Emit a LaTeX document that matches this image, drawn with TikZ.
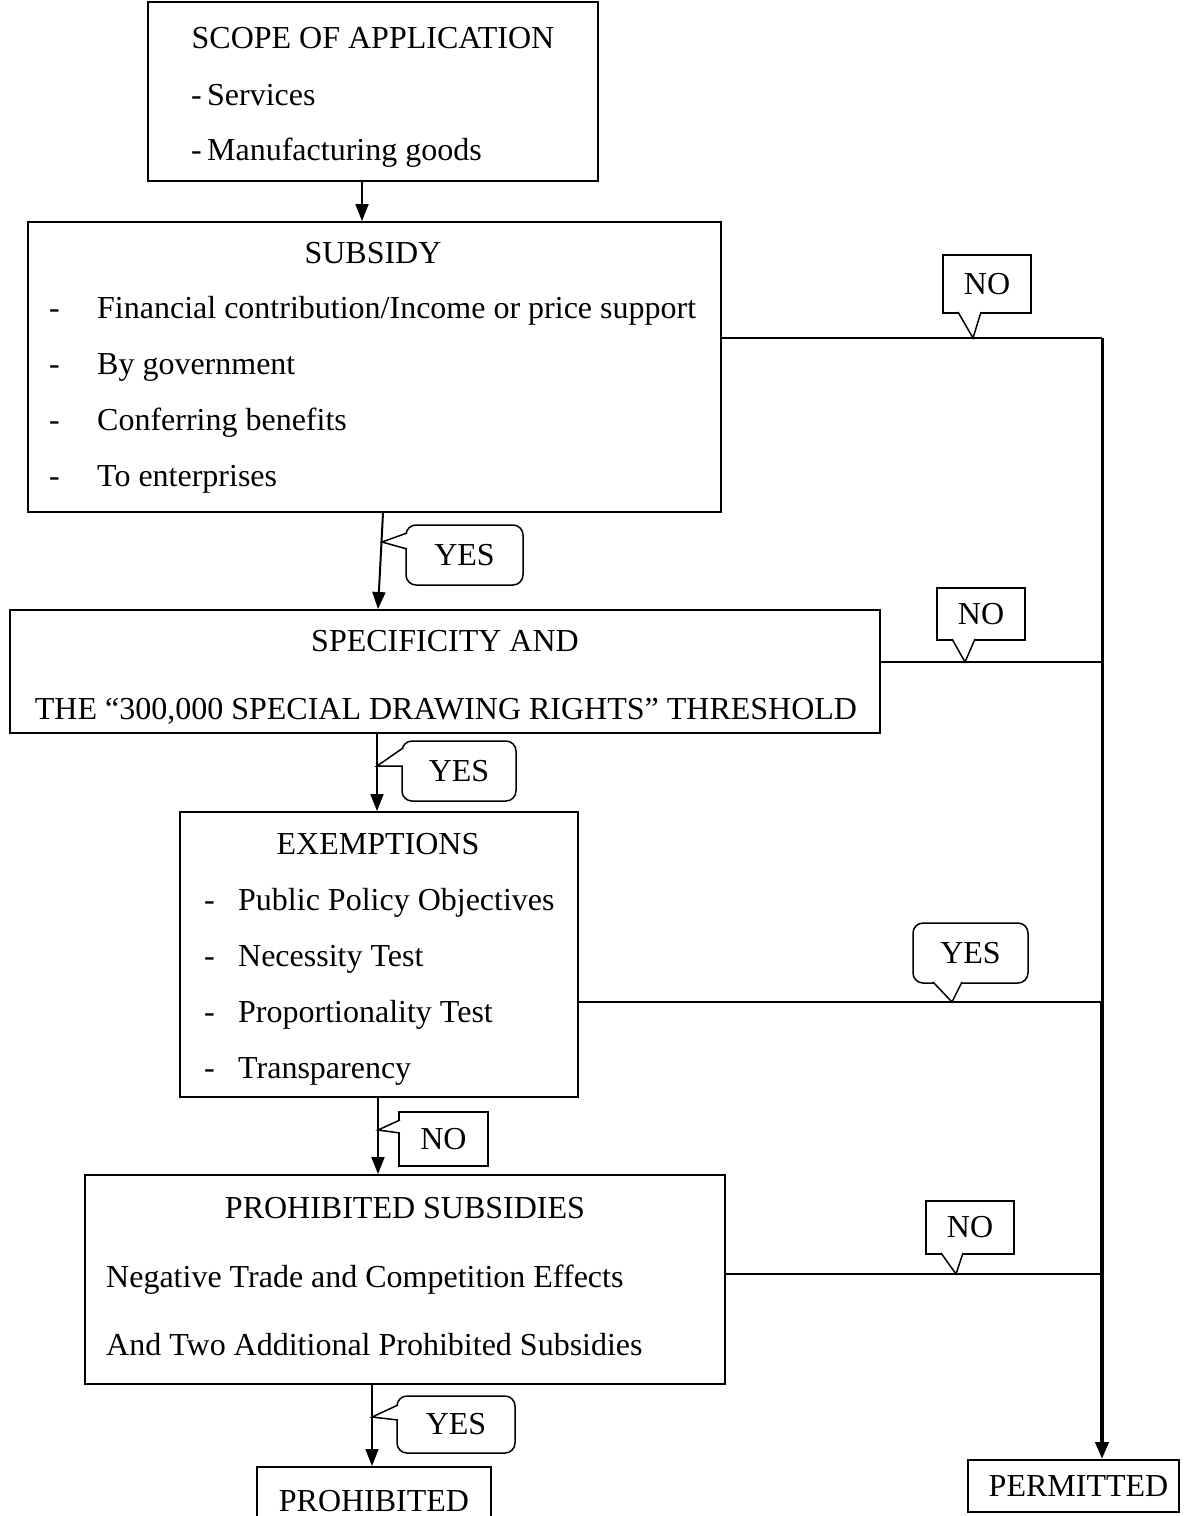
\documentclass[tikz,border=0pt]{standalone}
\usepackage{fontspec}
\setmainfont{Liberation Serif}
\usetikzlibrary{arrows.meta}

% list line: dash, then text after a fixed gap
\newcommand{\itm}[2]{\makebox[#1][l]{-}#2}
% pointer of a speech tag: base point, tip, base point
\newcommand{\pointer}[3]{%
  \fill[white] (#1) -- (#2) -- (#3) -- cycle;
  \draw[line width=1.5pt] (#1) -- (#2) -- (#3);}

\begin{document}
\begin{tikzpicture}[x=1pt, y=-1pt,
    font=\fontsize{32}{38}\selectfont,
    box/.style={draw, line width=2pt, inner sep=0pt},
    txt/.style={anchor=base, inner sep=0pt},
    item/.style={anchor=base west, inner sep=0pt},
    link/.style={line width=2pt},
    arr/.style={line width=2pt, -{Triangle[length=17pt, width=13pt]}},
    tagsq/.style={draw, fill=white, line width=1.5pt, inner sep=0pt},
    tagrd/.style={tagsq, rounded corners=10pt}]
  \useasboundingbox (0,0) rectangle (1189,1516);
  \fill[white] (0,0) rectangle (1189,1516);

  % Scope of application
  \node[box, minimum width=450, minimum height=179] (scope) at (373,91.5) {};
  \node[txt] (scope-t) at (373,48) {SCOPE OF APPLICATION};
  \node[item] (scope-1) at (191,105) {\itm{16pt}{Services}};
  \node[item] (scope-2) at (191,160) {\itm{16pt}{Manufacturing goods}};

  % Subsidy
  \node[box, minimum width=693, minimum height=290] (subsidy) at (374.5,367) {};
  \node[txt] (subsidy-t) at (373,263) {SUBSIDY};
  \node[item] (subsidy-1) at (49,318) {\itm{48pt}{Financial contribution/Income or price support}};
  \node[item] (subsidy-2) at (49,374) {\itm{48pt}{By government}};
  \node[item] (subsidy-3) at (49,430) {\itm{48pt}{Conferring benefits}};
  \node[item] (subsidy-4) at (49,486) {\itm{48pt}{To enterprises}};

  % Specificity and threshold
  \node[box, minimum width=870, minimum height=123] (spec) at (445,671.5) {};
  \node[txt] (spec-1) at (445,651) {SPECIFICITY AND};
  \node[txt] (spec-2) at (446,719) {THE ``300,000 SPECIAL DRAWING RIGHTS'' THRESHOLD};

  % Exemptions
  \node[box, minimum width=398, minimum height=285] (exempt) at (379,954.5) {};
  \node[txt] (exempt-t) at (378,854) {EXEMPTIONS};
  \node[item] (exempt-1) at (204,910) {\itm{34pt}{Public Policy Objectives}};
  \node[item] (exempt-2) at (204,966) {\itm{34pt}{Necessity Test}};
  \node[item] (exempt-3) at (204,1022) {\itm{34pt}{Proportionality Test}};
  \node[item] (exempt-4) at (204,1078) {\itm{34pt}{Transparency}};

  % Prohibited subsidies
  \node[box, minimum width=640, minimum height=209] (prohib) at (405,1279.5) {};
  \node[txt] (prohib-t) at (405,1218) {PROHIBITED SUBSIDIES};
  \node[item] (prohib-1) at (106,1287) {Negative Trade and Competition Effects};
  \node[item] (prohib-2) at (106,1355) {And Two Additional Prohibited Subsidies};

  % Outcomes
  \node[box, minimum width=234, minimum height=68] (forbidden) at (374,1501) {PROHIBITED};
  \node[box, minimum width=211, minimum height=52, text width=211, align=center,
        inner xsep=0pt] (permit) at (1073.5,1486) {\hspace*{10pt}PERMITTED};

  % Speech tags
  \node[tagsq, minimum width=88, minimum height=58] (no1) at (987,284) {NO};
  \pointer{958,312}{973,338}{981,312}
  \node[tagsq, minimum width=88, minimum height=52] (no2) at (981,614) {NO};
  \pointer{952,639}{965,662}{975,639}
  \node[tagrd, minimum width=115, minimum height=60] (yes3) at (970.5,953) {YES};
  \pointer{933,982}{952,1002}{962,982}
  \node[tagsq, minimum width=88, minimum height=53] (no4) at (970,1227.5) {NO};
  \pointer{941,1253}{956,1274}{963,1253}
  \node[tagrd, minimum width=117, minimum height=60] (yes1) at (464.5,555) {YES};
  \pointer{407,533}{382,542}{407,549}
  \node[tagrd, minimum width=114, minimum height=60] (yes2) at (459,771) {YES};
  \pointer{403,748}{377,766}{403,766}
  \node[tagsq, minimum width=89, minimum height=54] (no3) at (443.5,1139) {NO};
  \pointer{400,1120}{378,1130}{400,1133}
  \node[tagrd, minimum width=118, minimum height=57] (yes4) at (456,1424.5) {YES};
  \pointer{398,1405}{372,1417}{398,1420}

  % Main flow
  \draw[arr] (scope.south -| 362,0) -- (subsidy.north -| 362,0);
  \draw[arr] (subsidy.south -| 383,0) -- (spec.north -| 378,0);
  \draw[arr] (spec.south -| 377,0) -- (exempt.north -| 377,0);
  \draw[arr] (exempt.south -| 378,0) -- (prohib.north -| 378,0);
  \draw[arr] (prohib.south -| 372,0) -- (forbidden.north -| 372,0);

  % Exits to the right
  \coordinate (r1) at (1102,338);
  \coordinate (r2) at (1102,662);
  \coordinate (r3) at (1102,1002);
  \coordinate (r4) at (1102,1274);
  \draw[link] (subsidy.east |- r1) -- (r1);
  \draw[link] (spec.east |- r2) -- (r2);
  \draw[link] (exempt.east |- r3) -- (r3);
  \draw[link] (prohib.east |- r4) -- (r4);
  \draw[line width=3pt] (r1) -- (r3);
  \draw[line width=4pt, -{Triangle[length=17pt, width=13pt]}] (r3) -- (r3 |- permit.north);
\end{tikzpicture}
\end{document}
